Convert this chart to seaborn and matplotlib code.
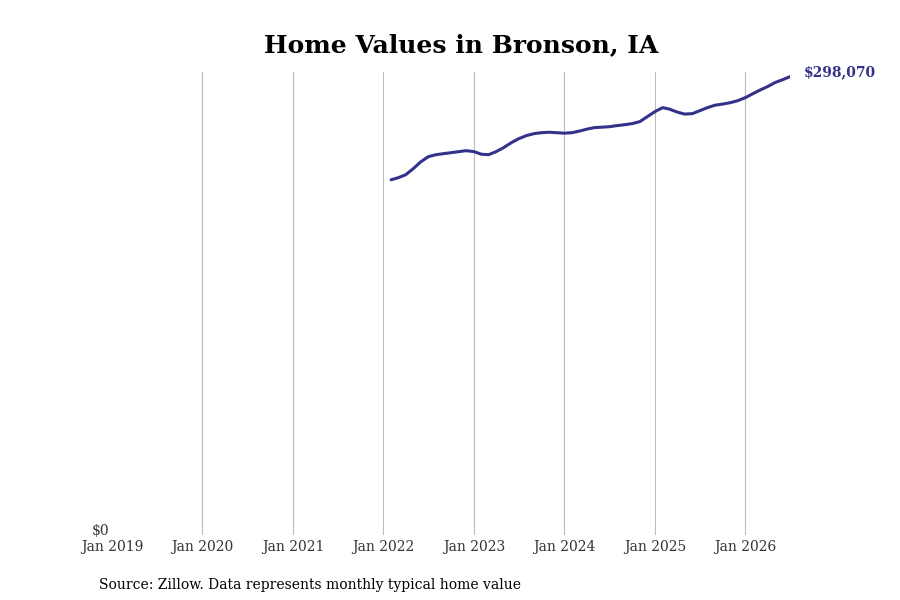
import matplotlib
matplotlib.use("Agg")
import matplotlib.pyplot as plt
import matplotlib.dates as mdates
import matplotlib.transforms as mtransforms
import pandas as pd
import seaborn as sns

# monthly typical home value, Feb 2022 .. Jul 2026
months = pd.date_range("2022-02-01", "2026-07-01", freq="MS")
values = [
    231000, 232300, 234300, 238200, 242700, 246000, 247300, 248000, 248600, 249300, 249900,
    249300, 247600, 247300, 249300, 251900, 255100, 257700, 259700, 261000, 261600, 261900, 261600,
    261300, 261600, 262600, 263900, 264900, 265200, 265500, 266200, 266800, 267500, 268800, 272000,
    275300, 277900, 276900, 275000, 273700, 274000, 275900, 277900, 279500, 280200, 281100, 282400,
    284400, 287000, 289300, 291600, 294200, 296100, 298070,
]
year_ticks = pd.date_range("2019-01-01", "2026-01-01", freq="YS")

line_color = "#32328a"

sns.set_style("white")
plt.rcParams["font.family"] = ["DejaVu Serif"]

df = pd.DataFrame({"date": months, "value": values})

fig, ax = plt.subplots(figsize=(9, 6), dpi=100)
fig.subplots_adjust(left=0.1244, right=0.878, bottom=0.108, top=0.88)

sns.lineplot(data=df, x="date", y="value", ax=ax, color=line_color, linewidth=2.2)

ax.set_xlim(pd.Timestamp("2019-01-01"), months[-1])
ax.set_ylim(0, max(values) * 1.01)
ax.set_xticks(year_ticks)
ax.xaxis.set_major_formatter(mdates.DateFormatter("%b %Y"))
ax.set_yticks([])
ax.tick_params(axis="both", length=0, labelsize=10, colors="#333333")

# the lone "$0" label, nudged up a touch so it sits above "Jan 2019"
trans = mtransforms.blended_transform_factory(ax.transAxes, ax.transData)
trans = trans + mtransforms.ScaledTranslation(-2 / 72, 3 / 72, fig.dpi_scale_trans)
ax.text(0, 0, "$0", transform=trans, ha="right", va="center",
        fontsize=10, color="#333333")

ax.grid(axis="x", color="#bbbbbb", linewidth=0.8)
ax.grid(axis="y", visible=False)
ax.get_xgridlines()[0].set_visible(False)
for s in ax.spines.values():
    s.set_visible(False)
ax.set_xlabel("")
ax.set_ylabel("")

ax.annotate(f"${values[-1]:,}", (months[-1], values[-1]), xytext=(10, -2),
            textcoords="offset points", color=line_color, fontsize=10,
            fontweight="bold", va="bottom", ha="left", annotation_clip=False)

fig.suptitle("Home Values in Bronson, IA", fontsize=18, fontweight="bold",
             color="black", x=0.512, y=0.945)
fig.text(0.11, 0.018, "Source: Zillow. Data represents monthly typical home value",
         fontsize=10, color="black")

fig.savefig("out.png", dpi=100)
